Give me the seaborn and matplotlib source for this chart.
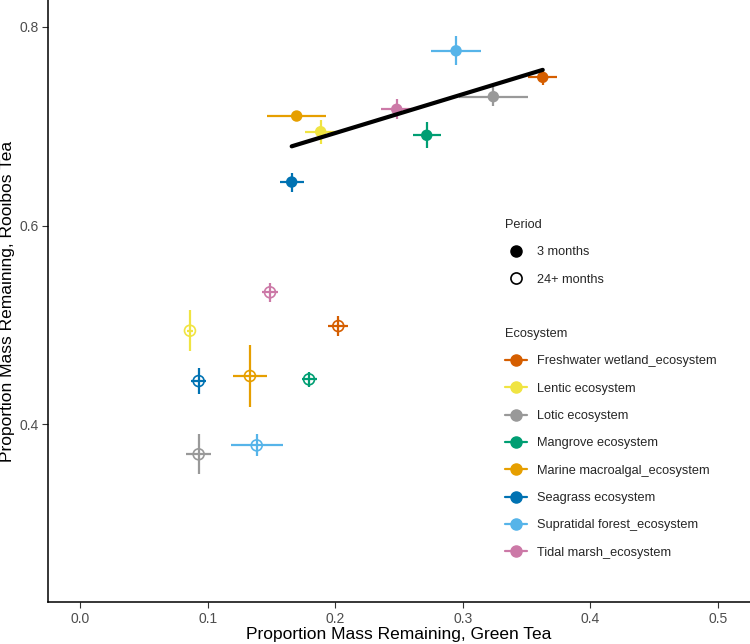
import numpy as np
import pandas as pd
import matplotlib
matplotlib.use("Agg")
import matplotlib.pyplot as plt
from matplotlib.lines import Line2D
import seaborn as sns

ecosystems = ["Freshwater wetland_ecosystem", "Lentic ecosystem", "Lotic ecosystem",
              "Mangrove ecosystem", "Marine macroalgal_ecosystem", "Seagrass ecosystem",
              "Supratidal forest_ecosystem", "Tidal marsh_ecosystem"]
colors = ["#D55E00", "#F0E442", "#999999", "#009E73", "#E69F00", "#0072B2", "#56B4E9", "#CC79A7"]

# 3 months
green_3 = [0.3626, 0.1886, 0.3239, 0.2717, 0.1698, 0.1659, 0.2947, 0.2482]
green_3_err = [0.0114, 0.0124, 0.0270, 0.0110, 0.0232, 0.0094, 0.0193, 0.0120]
rooibos_3 = [0.7493, 0.6945, 0.7298, 0.6909, 0.7103, 0.6438, 0.7760, 0.7171]
rooibos_3_err = [0.0076, 0.0119, 0.0096, 0.0129, 0.0040, 0.0096, 0.0146, 0.0100]

# 24+ months
green_24 = [0.2024, 0.0862, 0.0930, 0.1795, 0.1332, 0.0930, 0.1385, 0.1489]
green_24_err = [0.0080, 0.0020, 0.0098, 0.0059, 0.0136, 0.0059, 0.0205, 0.0065]
rooibos_24 = [0.4987, 0.4940, 0.3695, 0.4450, 0.4484, 0.4433, 0.3785, 0.5327]
rooibos_24_err = [0.0099, 0.0207, 0.0202, 0.0075, 0.0310, 0.0134, 0.0110, 0.0096]

periods = ["3 months", "24+ months"]

df = pd.concat([
    pd.DataFrame({"Ecosystem": ecosystems, "Period": periods[0], "green": green_3,
                  "green_err": green_3_err, "rooibos": rooibos_3, "rooibos_err": rooibos_3_err}),
    pd.DataFrame({"Ecosystem": ecosystems, "Period": periods[1], "green": green_24,
                  "green_err": green_24_err, "rooibos": rooibos_24, "rooibos_err": rooibos_24_err}),
], ignore_index=True)

sns.set_theme(style="ticks")
plt.rcParams["font.family"] = ["Liberation Sans", "DejaVu Sans"]

W, H = 750, 644
fig = plt.figure(figsize=(W / 100, H / 100), dpi=100)
ax = fig.add_axes([48.3 / W, 42 / H, (W - 48.3) / W, 602 / H])

palette = dict(zip(ecosystems, colors))

# error bars
for _, r in df.iterrows():
    ax.errorbar(r["green"], r["rooibos"], xerr=r["green_err"], yerr=r["rooibos_err"],
                fmt="none", ecolor=palette[r["Ecosystem"]], elinewidth=1.6, capsize=0, zorder=2)

d3 = df[df["Period"] == periods[0]]
d24 = df[df["Period"] == periods[1]]

sns.scatterplot(data=d3, x="green", y="rooibos", hue="Ecosystem", palette=palette,
                s=68, linewidth=0, legend=False, ax=ax, zorder=3)
n_before = len(ax.collections)
sns.scatterplot(data=d24, x="green", y="rooibos", hue="Ecosystem", palette=palette,
                s=62, linewidth=1.2, legend=False, ax=ax, zorder=3)
for coll in ax.collections[n_before:]:
    fc = coll.get_facecolors()
    coll.set_edgecolors(fc)
    coll.set_facecolors("none")

sns.regplot(data=d3, x="green", y="rooibos", scatter=False, ci=None, truncate=True,
            color="black", line_kws={"lw": 3, "zorder": 4}, ax=ax)

ax.set_xlim(-0.0248, 0.525)
ax.set_ylim(0.2207, 0.8272)
ax.set_xticks([0.0, 0.1, 0.2, 0.3, 0.4, 0.5])
ax.set_xticklabels(["0.0", "0.1", "0.2", "0.3", "0.4", "0.5"])
ax.set_yticks([0.4, 0.6, 0.8])
ax.set_yticklabels(["0.4", "0.6", "0.8"])
for s in ["top", "right"]:
    ax.spines[s].set_visible(False)
for s in ["left", "bottom"]:
    ax.spines[s].set_color("black")
    ax.spines[s].set_linewidth(1.1)
ax.tick_params(axis="both", length=4, width=0.8, color="#333333",
               labelsize=10, labelcolor="#4D4D4D", pad=3)
ax.set_xlabel("Proportion Mass Remaining, Green Tea", fontsize=12.5, color="black", labelpad=1)
ax.set_ylabel("Proportion Mass Remaining, Rooibos Tea", fontsize=12.5, color="black", labelpad=3)
ax.grid(False)

# legends
ph = [Line2D([], [], marker="o", ls="", color="black", markersize=8),
      Line2D([], [], marker="o", ls="", color="black", markerfacecolor="white",
             markeredgewidth=1.2, markersize=8)]
leg1 = fig.legend(ph, periods, title="Period", loc="upper left",
                  bbox_to_anchor=(499.5 / W, 1 - 214 / H), frameon=False,
                  fontsize=9.2, title_fontsize=9.2, handlelength=1.75,
                  labelspacing=1.2, handletextpad=0.75, borderaxespad=0)
leg1._legend_box.align = "left"

eh = [Line2D([], [], color=c, marker="o", lw=1.6, markersize=8) for c in colors]
leg2 = fig.legend(eh, ecosystems, title="Ecosystem", loc="upper left",
                  bbox_to_anchor=(499.5 / W, 1 - 323 / H), frameon=False,
                  fontsize=9.2, title_fontsize=9.2, handlelength=1.75,
                  labelspacing=1.2, handletextpad=0.75, borderaxespad=0)
leg2._legend_box.align = "left"

fig.savefig("out.png", dpi=100)
